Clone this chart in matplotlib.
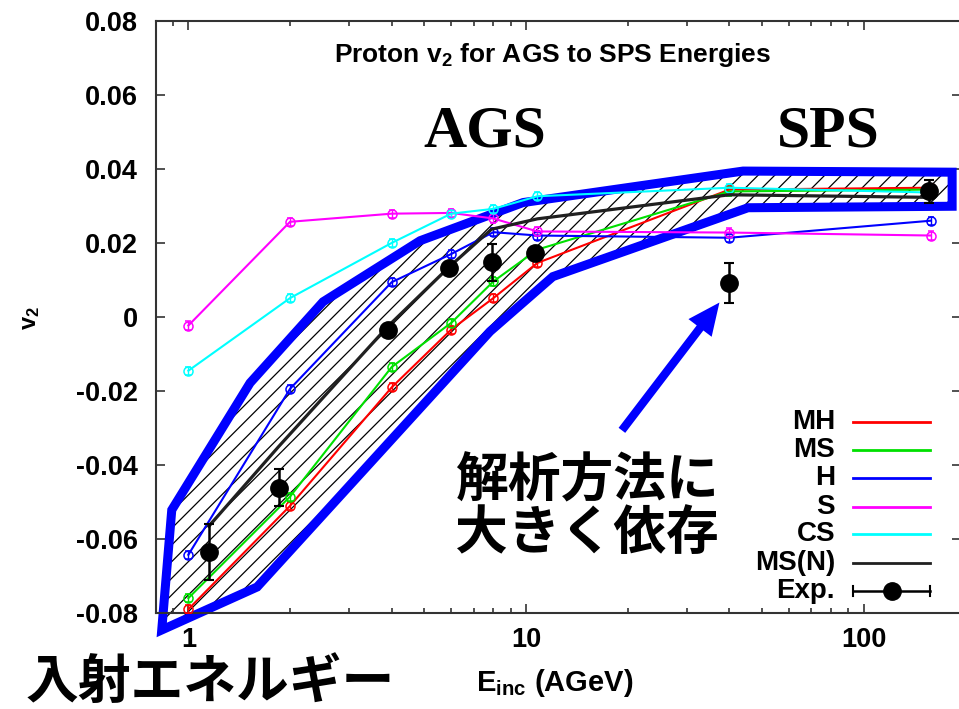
import numpy as np
import matplotlib
matplotlib.use("Agg")
import matplotlib.pyplot as plt
from matplotlib.patches import Polygon, FancyArrowPatch

plt.rcParams["font.family"] = ["Liberation Sans", "Noto Sans CJK JP", "DejaVu Sans"]
plt.rcParams["mathtext.default"] = "regular"
plt.rcParams["hatch.linewidth"] = 0.9

# ---- model calculations (beam energy in AGeV) ----
e_model = [1, 2, 4, 6, 8, 10.8, 40, 158]
v2_mh = [-0.0789, -0.0510, -0.0190, -0.0034, 0.0051, 0.0146, 0.0344, 0.0349]
v2_ms = [-0.0759, -0.0485, -0.0135, -0.0016, 0.0096, 0.0182, 0.0339, 0.0344]
v2_h = [-0.0642, -0.0194, 0.0094, 0.0170, 0.0229, 0.0220, 0.0214, 0.0260]
v2_s = [-0.0023, 0.0257, 0.0279, 0.0281, 0.0266, 0.0231, 0.0228, 0.0220]
v2_cs = [-0.0145, 0.0051, 0.0200, 0.0279, 0.0292, 0.0326, 0.0349, 0.0336]
model_err = 0.0011

e_msn = [1.15, 1.85, 3.9, 5.9, 7.9, 10.8, 40, 158]
v2_msn = [-0.0565, -0.0350, -0.0025, 0.0134, 0.0237, 0.0265, 0.0330, 0.0323]

# ---- experimental data ----
e_exp = [1.15, 1.85, 3.9, 5.9, 7.9, 10.6, 40, 156]
v2_exp = [-0.0634, -0.0461, -0.0036, 0.0132, 0.0148, 0.0174, 0.0093, 0.0339]
err_exp = [0.0075, 0.0050, 0.0012, 0.0015, 0.0050, 0.0015, 0.0054, 0.0030]

# ---- envelope of model results ----
band_e = [0.834, 0.893, 1.523, 2.505, 4.855, 9.80, 43.9, 182.6, 182.6, 45.4, 12.0, 7.82, 1.598]
band_v2 = [-0.0845, -0.0521, -0.0178, 0.0041, 0.0206, 0.0309, 0.0394, 0.0391,
           0.0299, 0.0295, 0.0109, -0.0039, -0.0729]

# ---- axis labels / ticks ----
y_ticks = [-0.08, -0.06, -0.04, -0.02, 0, 0.02, 0.04, 0.06, 0.08]
y_tick_labels = ["-0.08", "-0.06", "-0.04", "-0.02", "0", "0.02", "0.04", "0.06", "0.08"]
x_ticks = [1, 10, 100]
x_tick_labels = ["1", "10", "100"]

series = [
    ("MH", v2_mh, "#ff0000"),
    ("MS", v2_ms, "#00e000"),
    ("H", v2_h, "#0000ff"),
    ("S", v2_s, "#ff00ff"),
    ("CS", v2_cs, "#00ffff"),
]

W, H = 959, 709
fig = plt.figure(figsize=(W / 100, H / 100), dpi=100)
ax = fig.add_axes([156 / W, 95.7 / H, 805 / W, 592.6 / H])
ax.set_xscale("log")
ax.set_xlim(0.802, 194)
ax.set_ylim(-0.08, 0.08)

# hatched envelope and its thick blue outline
verts = np.column_stack([band_e, band_v2])
ax.add_patch(Polygon(verts, closed=True, facecolor="none", edgecolor="black",
                     lw=0, hatch="//", clip_on=False, zorder=1))
ax.add_patch(Polygon(verts, closed=True, facecolor="none", edgecolor="#0000ff",
                     lw=6.5, joinstyle="miter", clip_on=False, zorder=2))

for name, vals, col in series:
    ax.errorbar(e_model, vals, yerr=model_err, color=col, marker="o", ms=6.5,
                mfc="none", mew=1.1, lw=1.5, capsize=2.5, elinewidth=1.0,
                zorder=4)

ax.plot(e_msn, v2_msn, color="#202020", lw=2.3, zorder=5)

ax.errorbar(e_exp, v2_exp, yerr=err_exp, fmt="o", color="black", ms=12.5,
            capsize=3.5, elinewidth=1.8, capthick=1.5, zorder=6)

# arrow pointing at the SPS measurement
ax.add_patch(FancyArrowPatch((19.0, -0.0312), (37.8, 0.0045),
                             arrowstyle="simple,head_length=1.15,head_width=1.05,tail_width=0.3",
                             mutation_scale=20, color="#0000ff", lw=0, zorder=7))

# ticks
ax.set_yticks(y_ticks)
ax.set_yticklabels(y_tick_labels)
ax.set_xticks(x_ticks)
ax.set_xticklabels(x_tick_labels)
ax.tick_params(which="both", direction="in", top=True, right=True, width=1.2,
               color="#333333")
ax.tick_params(which="major", length=6.5)
ax.tick_params(which="minor", length=3.5)
ax.tick_params(axis="y", pad=13, labelsize=19.5)
ax.tick_params(axis="x", pad=10, labelsize=19.5)
for lab in ax.get_yticklabels() + ax.get_xticklabels():
    lab.set_fontweight("bold")
for sp in ax.spines.values():
    sp.set_linewidth(1.5)
    sp.set_color("#333333")

# texts inside the axes
ax.text(0.493, 0.942, "Proton v$_2$ for AGS to SPS Energies", transform=ax.transAxes,
        ha="center", va="center", fontsize=19, fontweight="bold")
ax.text(0.409, 0.812, "AGS", transform=ax.transAxes, ha="center", va="center",
        fontsize=43, fontweight="bold", family="Liberation Serif")
ax.text(0.835, 0.812, "SPS", transform=ax.transAxes, ha="center", va="center",
        fontsize=43, fontweight="bold", family="Liberation Serif")

# legend
leg_rows = [422, 450, 478, 507, 534, 563, 591]
leg_names = ["MH", "MS", "H", "S", "CS", "MS(N)", "Exp."]
leg_cols = ["#ff0000", "#00e000", "#0000ff", "#ff00ff", "#00ffff", "#202020", "black"]
tx = (835 - 156) / 805
x0, x1 = (853 - 156) / 805, (930 - 156) / 805
for yp, nm, col in zip(leg_rows, leg_names, leg_cols):
    yf = (613.3 - yp) / 592.6
    ax.text(tx, yf, nm, transform=ax.transAxes, ha="right", va="center",
            fontsize=20, fontweight="bold")
    if nm == "Exp.":
        ax.plot([x0, x1], [yf, yf], transform=ax.transAxes, color=col, lw=1.8,
                clip_on=False, zorder=8)
        for xe in (x0, x1):
            ax.plot([xe, xe], [yf - 0.008, yf + 0.008], transform=ax.transAxes,
                    color=col, lw=1.5, clip_on=False, zorder=8)
        ax.plot([(x0 + x1) / 2], [yf], "o", transform=ax.transAxes, color=col,
                ms=12.5, clip_on=False, zorder=8)
    else:
        ax.plot([x0, x1], [yf, yf], transform=ax.transAxes, color=col, lw=2.0,
                clip_on=False, zorder=8)

# annotation and axis titles placed on the figure
fig.text(455 / W, 1 - 481 / H, "解析方法に", ha="left", va="center",
         fontsize=38, fontweight="bold", family=["Noto Sans CJK JP"])
fig.text(455 / W, 1 - 533 / H, "大きく依存", ha="left", va="center",
         fontsize=38, fontweight="bold", family=["Noto Sans CJK JP"])
fig.text(26 / W, 0.5 / H, "入射エネルギー", ha="left", va="bottom",
         fontsize=38, fontweight="bold", family=["Noto Sans CJK JP"])
fig.text(476 / W, 1 - 683 / H, "E$_{inc}$ (AGeV)", ha="left", va="center",
         fontsize=21, fontweight="bold")
fig.text(30 / W, 1 - 318 / H, "v$_2$", ha="center", va="center", rotation=90,
         fontsize=17, fontweight="bold")

fig.savefig("out.png", dpi=100)
